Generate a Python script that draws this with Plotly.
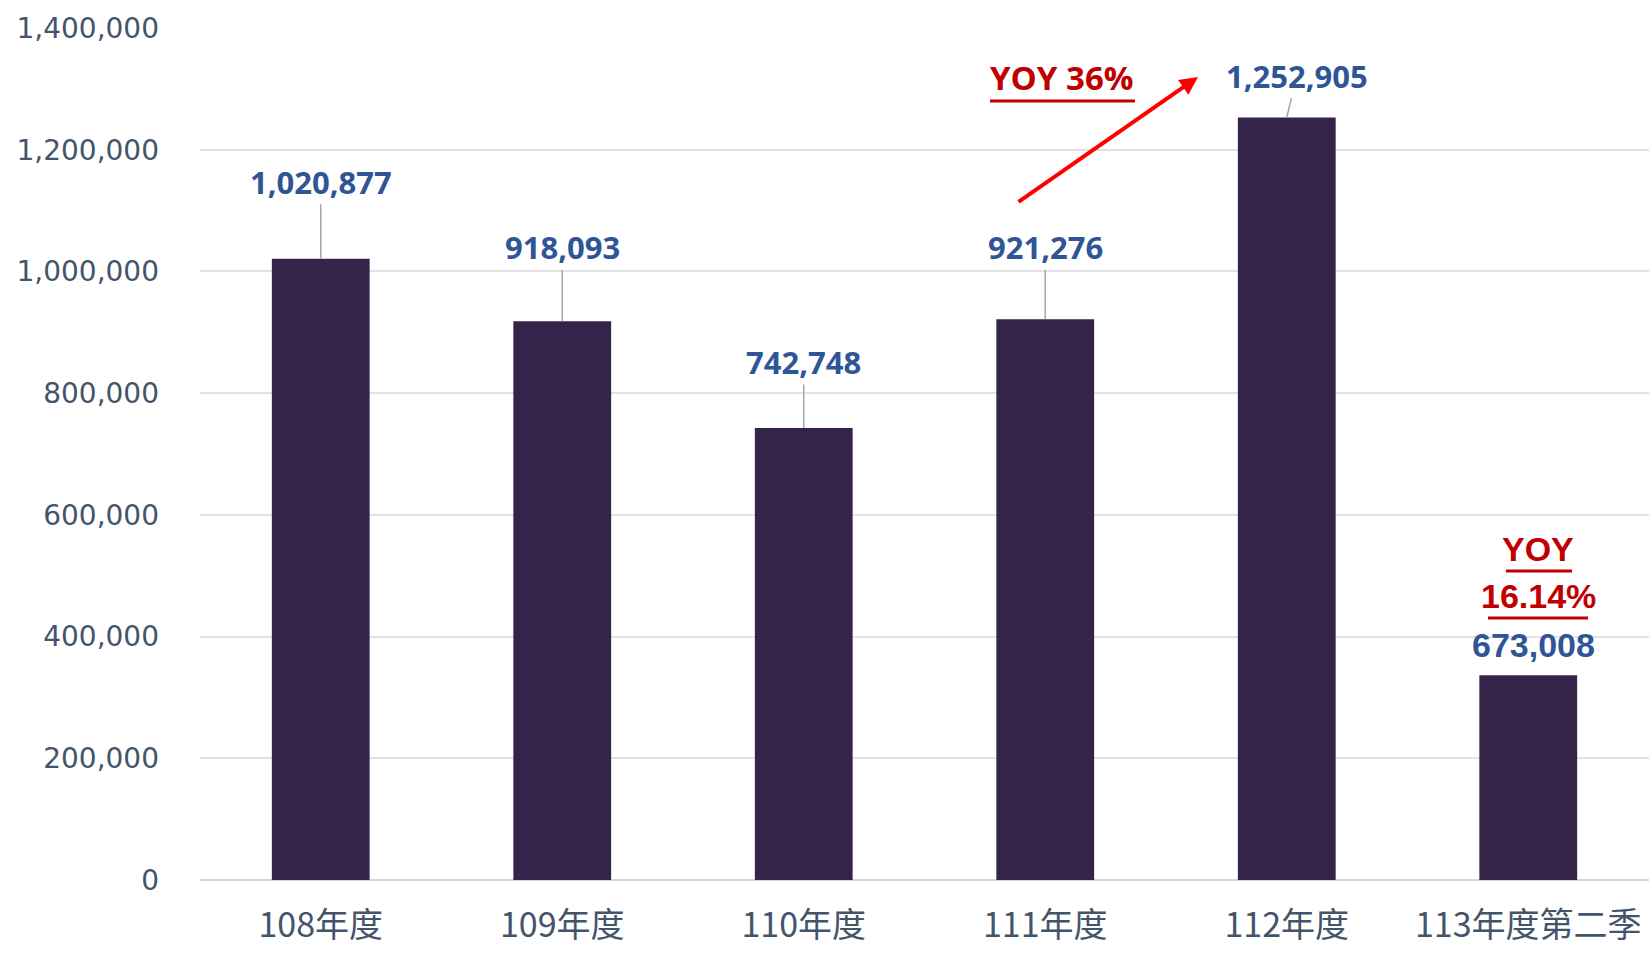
import plotly.graph_objects as go

# ---------------- data ----------------
categories = ["108年度", "109年度", "110年度", "111年度", "112年度", "113年度第二季"]
bar_values = [1020877, 918093, 742748, 921276, 1252905, 336504]   # drawn bar heights
label_values = [1020877, 918093, 742748, 921276, 1252905, 673008]  # printed values
y_ticks = [0, 200000, 400000, 600000, 800000, 1000000, 1200000, 1400000]
yoy_main = "YOY 36%"
yoy_last = ["YOY", "16.14%"]

# ---------------- layout constants ----------------
W, H = 1649, 954
ML, MR, MT, MB = 200, 0, 28, 74
PW, PH = W - ML - MR, H - MT - MB


def px(x):
    return (x - ML) / PW


def py(y):
    return (H - MB - y) / PH


BAR = "#35244a"
BLUE = "#2f5597"
RED = "#c00000"
AXIS_TXT = "#44546a"

fig = go.Figure()
fig.add_trace(go.Bar(
    x=categories, y=bar_values, marker=dict(color=BAR, line=dict(width=0)),
    width=0.405, hoverinfo="skip",
))

# data labels with leader lines (pixel offsets are styling, not data)
label_offsets = [(0, -77), (0, -74), (0, -66), (0, -72), (10, -42), None]
annotations = []
for i, (c, v, lv) in enumerate(zip(categories, bar_values, label_values)):
    off = label_offsets[i]
    txt = f"{lv:,}"
    if off is not None:
        annotations.append(dict(
            x=c, y=v, xref="x", yref="y", text=txt, showarrow=True,
            arrowhead=0, arrowwidth=1.5, arrowcolor="#a6a6a6",
            ax=off[0], ay=off[1], standoff=0,
            font=dict(family="Open Sans", size=31, color=BLUE, weight="bold"),
        ))
    else:
        annotations.append(dict(
            x=c, y=v, xref="x", yref="y", text=txt, showarrow=False,
            yshift=30, xshift=5,
            font=dict(family="Liberation Sans, Arial", size=34, color=BLUE, weight="bold"),
        ))

common = dict(xref="paper", yref="paper", xanchor="center", yanchor="middle", showarrow=False)
# YOY 36% text
annotations.append(dict(
    x=px(1062), y=py(78), text=yoy_main,
    font=dict(family="Open Sans", size=33, color=RED, weight="bold"), **common,
))
# red arrow
annotations.append(dict(
    x=px(1198), y=py(77), xref="paper", yref="paper", text="",
    showarrow=True, arrowhead=2, arrowsize=0.9, arrowwidth=4, arrowcolor="#ff0000",
    ax=1017 - 1198, ay=203 - 77, standoff=0,
))
# YOY 16.14%
annotations.append(dict(
    x=px(1538), y=py(549), text=yoy_last[0],
    font=dict(family="Liberation Sans, Arial", size=34, color=RED, weight="bold"), **common,
))
annotations.append(dict(
    x=px(1538), y=py(596), text=yoy_last[1],
    font=dict(family="Liberation Sans, Arial", size=34, color=RED, weight="bold"), **common,
))

shapes = [
    dict(type="line", xref="paper", yref="paper", x0=px(990), x1=px(1135), y0=py(101), y1=py(101),
         line=dict(color=RED, width=3)),
    dict(type="line", xref="paper", yref="paper", x0=px(1506), x1=px(1572), y0=py(571), y1=py(571),
         line=dict(color=RED, width=3)),
    dict(type="line", xref="paper", yref="paper", x0=px(1488), x1=px(1588), y0=py(618), y1=py(618),
         line=dict(color=RED, width=3)),
]

fig.update_layout(
    width=W, height=H,
    margin=dict(l=ML, r=MR, t=MT, b=MB, pad=0, autoexpand=False),
    paper_bgcolor="white", plot_bgcolor="white",
    showlegend=False, bargap=0.6,
    annotations=annotations, shapes=shapes,
    xaxis=dict(
        type="category", showgrid=False, showline=False, zeroline=False,
        ticks="", tickfont=dict(family="Noto Sans CJK TC", size=34, color=AXIS_TXT),
        ticklabelstandoff=22, automargin=False,
    ),
    yaxis=dict(
        range=[0, 1400000], tickvals=y_ticks,
        ticktext=[f"{t:,}" for t in y_ticks],
        showgrid=True, gridcolor="#e2e2e2", gridwidth=1.5,
        zeroline=True, zerolinecolor="#d6d6d6", zerolinewidth=1.5,
        showline=False, ticks="", automargin=False,
        tickfont=dict(family="DejaVu Sans", size=28, color=AXIS_TXT),
        ticklabelstandoff=40,
    ),
)

fig.write_html("out.html")
